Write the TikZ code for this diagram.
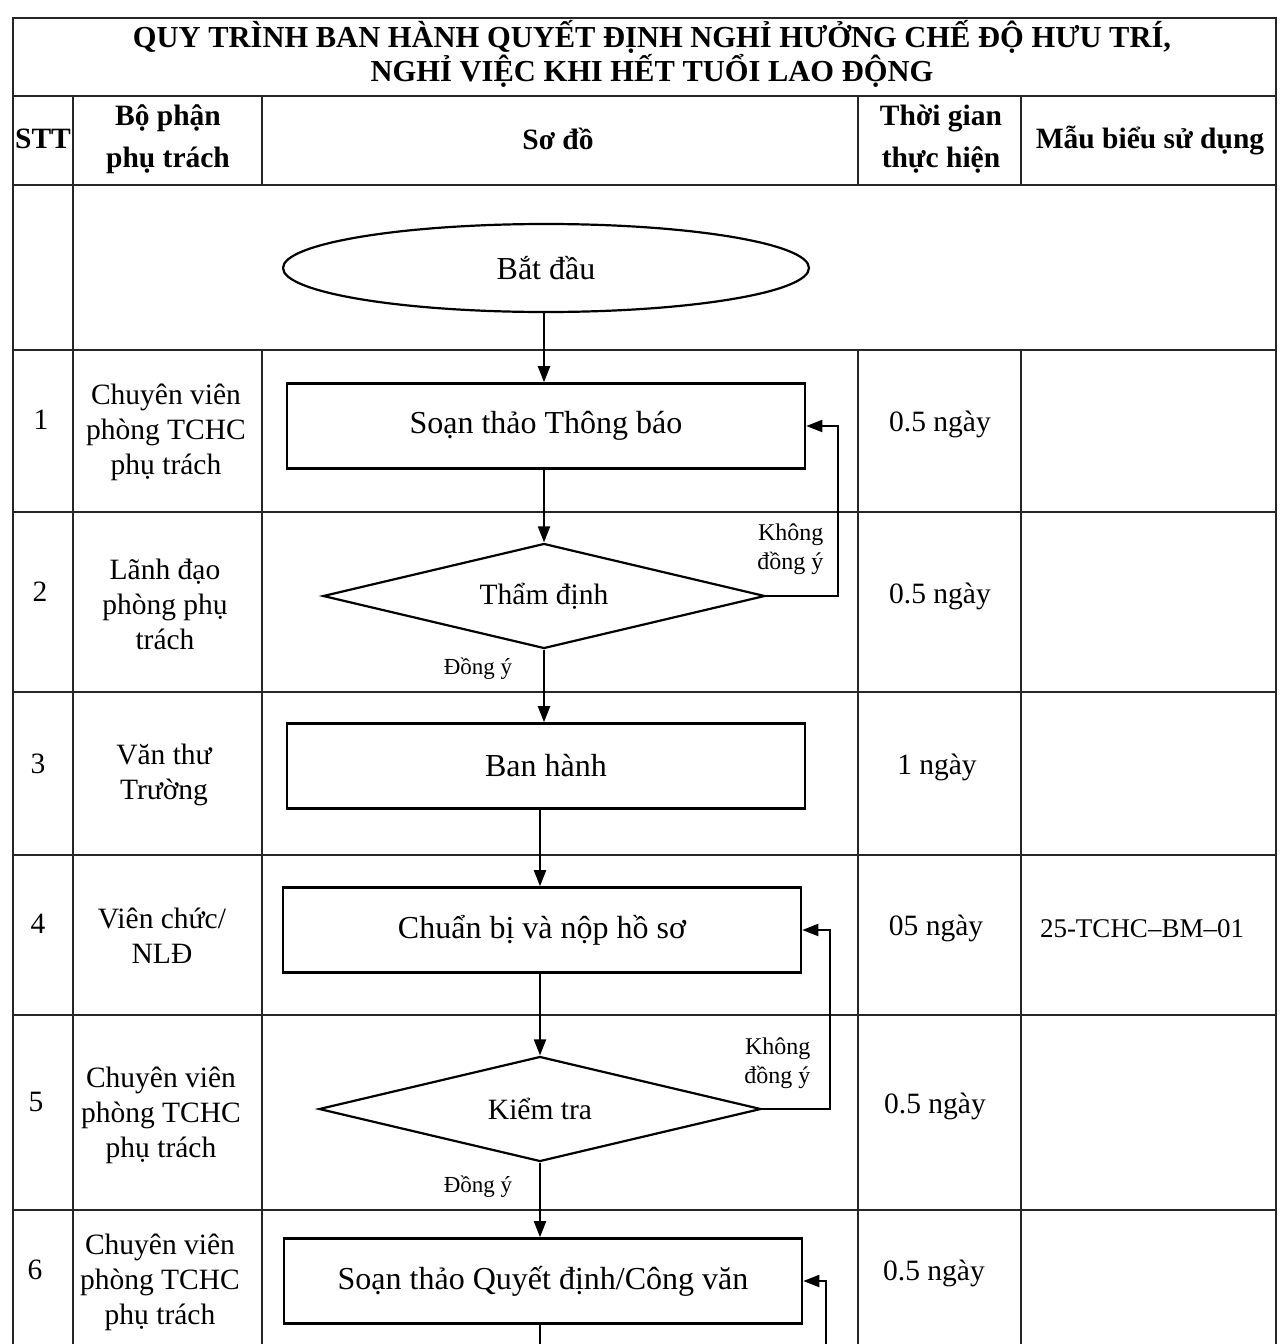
\documentclass[tikz,border=0pt]{standalone}
\usepackage{fontspec}
\setmainfont{Liberation Serif}
\usetikzlibrary{shapes.geometric,arrows.meta}
\begin{document}
\begin{tikzpicture}[x=1pt,y=-1pt,
  grid/.style={draw=black!85,line width=1.6pt},
  body/.style={font=\fontsize{29.5}{35}\selectfont,align=center},
  head/.style={font=\bfseries\fontsize{29.5}{42}\selectfont,align=center},
  small/.style={font=\fontsize{24}{29}\selectfont,align=right},
  stepbox/.style={draw=black,line width=2.6pt,minimum width=518pt,minimum height=85pt,inner sep=0pt,font=\fontsize{32}{36}\selectfont},
  decide/.style={draw=black,line width=2.2pt,diamond,aspect=4.2,minimum width=442pt,minimum height=105pt,inner sep=0pt,font=\fontsize{29.5}{34}\selectfont},
  startnode/.style={draw=black,line width=2.2pt,ellipse,minimum width=526pt,minimum height=88pt,inner sep=0pt,font=\fontsize{32}{36}\selectfont},
  arr/.style={line width=2pt,-{Triangle[length=16pt,width=12pt]}},
  ln/.style={line width=2pt}]
\useasboundingbox (0,0) rectangle (1282,1344);
\fill[white] (0,0) rectangle (1282,1344);
% table grid
\draw[grid] (13,1344) -- (13,18) -- (1276,18) -- (1276,1344);
\draw[grid] (13,96) -- (1276,96);
\draw[grid] (13,185) -- (1276,185);
\foreach \y in {350,512,692,855,1015,1210} \draw[grid] (13,\y) -- (1276,\y);
\draw[grid] (73,96) -- (73,1344);
\draw[grid] (262,96) -- (262,185);
\draw[grid] (262,350) -- (262,1344);
\draw[grid] (858,96) -- (858,185);
\draw[grid] (858,350) -- (858,1344);
\draw[grid] (1021,96) -- (1021,185);
\draw[grid] (1021,350) -- (1021,1344);
% title
\node[font=\bfseries\fontsize{30.5}{34}\selectfont] (t1) at (652,37) {QUY TRÌNH BAN HÀNH QUYẾT ĐỊNH NGHỈ HƯỞNG CHẾ ĐỘ HƯU TRÍ,};
\node[font=\bfseries\fontsize{30.5}{34}\selectfont] (t2) at (652,71) {NGHỈ VIỆC KHI HẾT TUỔI LAO ĐỘNG};
% header
\node[head] (h1) at (43,139) {STT};
\node[head] (h2) at (168,139) {Bộ phận\\phụ trách};
\node[head] (h3) at (558,139) {Sơ đồ};
\node[head] (h4) at (941,139) {Thời gian\\thực hiện};
\node[head] (h5) at (1150,141) {Mẫu biểu sử dụng};
% STT
\node[body] (n1) at (41,420) {1};
\node[body] (n2) at (40,592) {2};
\node[body] (n3) at (38,764) {3};
\node[body] (n4) at (38,924) {4};
\node[body] (n5) at (36,1102) {5};
\node[body] (n6) at (35,1270) {6};
% departments
\node[body] (p1) at (166,432) {Chuyên viên\\phòng TCHC\\phụ trách};
\node[body] (p2) at (165,604) {Lãnh đạo\\phòng phụ\\trách};
\node[body] (p3) at (164,775) {Văn thư\\Trường};
\node[body] (p4) at (162,936) {Viên chức/\\NLĐ};
\node[body] (p5) at (161,1115) {Chuyên viên\\phòng TCHC\\phụ trách};
\node[body] (p6) at (160,1282) {Chuyên viên\\phòng TCHC\\phụ trách};
% durations
\node[body] (d1t) at (940,424) {0.5 ngày};
\node[body] (d2t) at (940,596) {0.5 ngày};
\node[body] (d3t) at (937,767) {1 ngày};
\node[body] (d4t) at (936,928) {05 ngày};
\node[body] (d5t) at (935,1106) {0.5 ngày};
\node[body] (d6t) at (934,1273) {0.5 ngày};
% forms
\node[font=\fontsize{27}{30}\selectfont] (f4) at (1142,929) {25-TCHC–BM–01};
% flowchart
\node[startnode] (s) at (546,268) {Bắt đầu};
\node[stepbox] (b1) at (546,426) {Soạn thảo Thông báo};
\node[decide] (c1) at (544,596) {Thẩm định};
\node[stepbox] (b3) at (546,766) {Ban hành};
\node[stepbox] (b4) at (542,930) {Chuẩn bị và nộp hồ sơ};
\node[decide] (c2) at (540,1109) {Kiểm tra};
\node[stepbox] (b6) at (543,1281) {Soạn thảo Quyết định/Công văn};
\coordinate (e1) at (540,1344);
\coordinate (e2) at (826,1344);
\draw[arr] (s.south -| c1.north) -- (c1.north |- b1.north);
\draw[arr] (b1.south -| c1.north) -- (c1.north);
\draw[arr] (c1.south) -- (c1.south |- b3.north);
\draw[arr] (b3.south -| c2.north) -- (c2.north |- b4.north);
\draw[arr] (b4.south -| c2.north) -- (c2.north);
\draw[arr] (c2.south) -- (c2.south |- b6.north);
\draw[ln] (b6.south -| e1) -- (e1);
\draw[arr] (c1.east) -- ++(72,0) |- (b1.east);
\draw[arr] (c2.east) -- ++(68,0) |- (b4.east);
\draw[arr] (e2) |- (b6.east);
% labels
\node[small,anchor=east] (k1) at (827,549) {Không\\đồng ý};
\node[small,anchor=east] (k2) at (814,1063) {Không\\đồng ý};
\node[font=\fontsize{23}{27}\selectfont] (a1) at (478,669) {Đồng ý};
\node[font=\fontsize{23}{27}\selectfont] (a2) at (478,1187) {Đồng ý};
\end{tikzpicture}
\end{document}
